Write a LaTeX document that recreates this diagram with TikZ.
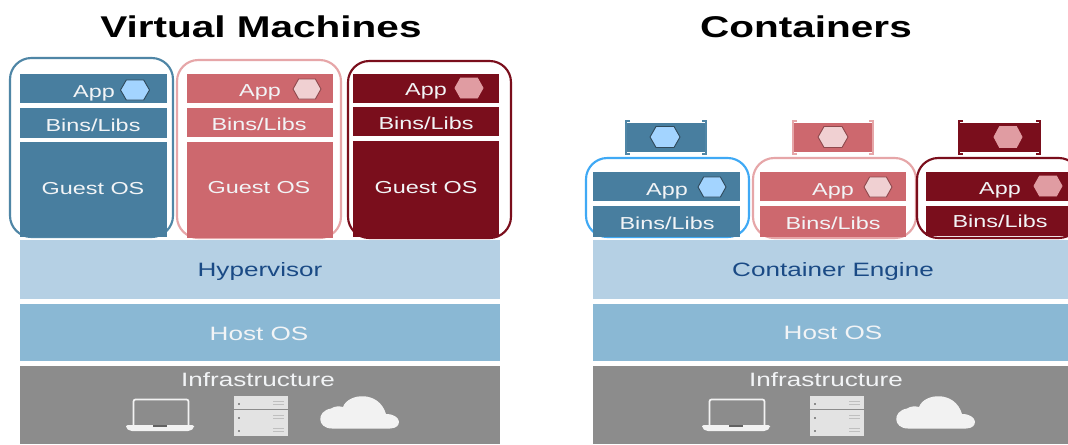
\documentclass[tikz,border=0pt]{standalone}
\usepackage{fontspec}
\setmainfont[FakeStretch=1.35]{Liberation Sans}
\definecolor{cblue}{HTML}{487E9F}
\definecolor{cpink}{HTML}{CD686E}
\definecolor{cdark}{HTML}{7A0E1C}
\definecolor{lblue}{HTML}{4F86A6}
\definecolor{lbright}{HTML}{3FA9F5}
\definecolor{lpink}{HTML}{E6A6A8}
\definecolor{hblue}{HTML}{A3D4FF}
\definecolor{hpink}{HTML}{F0D0D2}
\definecolor{hdark}{HTML}{E09CA2}
\definecolor{hyper}{HTML}{B5D0E4}
\definecolor{hostc}{HTML}{8AB8D4}
\definecolor{infra}{HTML}{8C8C8C}
\definecolor{navy}{HTML}{1A4A85}
\definecolor{icon}{HTML}{F2F2F2}
\definecolor{hexline}{HTML}{2F4A5C}
\definecolor{softw}{HTML}{F2F4F6}
\tikzset{
  x=0.75pt,y=-0.75pt,
  boxn/.style={inner sep=0pt,outer sep=0pt,rectangle},
  shell/.style={boxn,draw,line width=1.6pt,rounded corners=16pt},
  lab/.style={inner sep=0pt,text=softw,text height=9.3pt,text depth=0pt,font=\fontsize{13}{15}\selectfont},
  big/.style={inner sep=0pt,text=softw,text height=10.4pt,text depth=0pt,font=\fontsize{14.5}{17}\selectfont},
  dlab/.style={big,text=navy},
  ttl/.style={inner sep=0pt,text=black,text height=16pt,text depth=0pt,font=\fontsize{22.5}{26}\selectfont\bfseries},
  hexa/.style={line width=0.7pt,line join=round},
}
% name x0 y0 x1 y1 options
\newcommand{\bx}[6]{%
  \pgfmathsetmacro{\bw}{(#4-#2)*0.75}%
  \pgfmathsetmacro{\bh}{(#5-#3)*0.75}%
  \pgfmathsetmacro{\bcx}{(#2+#4)/2}%
  \pgfmathsetmacro{\bcy}{(#3+#5)/2}%
  \node[boxn,#6,minimum width=\bw pt,minimum height=\bh pt] (#1) at (\bcx,\bcy) {};}
% center x, y, half width, half height, fill, line
\newcommand{\hx}[6]{%
  \filldraw[hexa,fill=#5,draw=#6] (#1-#3,#2) -- (#1-#3*0.6,#2-#4) -- (#1+#3*0.6,#2-#4) -- (#1+#3,#2) -- (#1+#3*0.6,#2+#4) -- (#1-#3*0.6,#2+#4) -- cycle;}
% small container image
\newcommand{\img}[4]{% x0 x1 fill line
  \fill[#3] (#1,123) rectangle (#2,152);
  \draw[#4,line width=1.2pt] (#1+4,121) -- (#1,121) -- (#1,154) -- (#1+4,154);
  \draw[#4,line width=1.2pt] (#2-4,121) -- (#2,121) -- (#2,154) -- (#2-4,154);}
\newcommand{\laptop}[1]{%
  \begin{scope}[shift={(#1,0)}]
  \draw[icon,line width=1.3pt,rounded corners=1.5pt] (133.5,426) -- (133.5,399.5) -- (188.5,399.5) -- (188.5,426);
  \fill[icon,rounded corners=1.5pt] (126,425) -- (194,425) -- (194,428) -- (190,431) -- (130,431) -- (126,428) -- cycle;
  \fill[infra!70!black] (153,425) rectangle (167,427);
  \end{scope}}
\newcommand{\server}[1]{%
  \begin{scope}[shift={(#1,0)}]
  \foreach \yy in {396,410,423}{
    \fill[icon!85!infra] (234,\yy) rectangle (288,\yy+12.5);
    \fill[infra] (238,\yy+7) rectangle (240,\yy+9);
    \fill[infra!50!icon] (273,\yy+5) rectangle (284,\yy+6);
    \fill[infra!50!icon] (273,\yy+8) rectangle (284,\yy+9);
  }
  \end{scope}}
\newcommand{\cloud}[1]{%
  \begin{scope}[shift={(#1,0)}]
  \fill[icon] (332,428.5) .. controls (317,428.5) and (316,411) .. (331,408.5)
    .. controls (335,406) and (339,406) .. (343,407)
    .. controls (348,393) and (379,390) .. (386,414)
    .. controls (402,414) and (403,428.5) .. (390,428.5) -- cycle;
  \end{scope}}
\begin{document}
\begin{tikzpicture}
\useasboundingbox (0,0) rectangle (1068,444);
\clip (0,0) rectangle (1068,444);
\fill[white] (0,0) rectangle (1068,444);
\node[ttl] (t1) at (261,27) {Virtual Machines};
\node[ttl] (t2) at (806,27) {Containers};
% VM shells
\bx{s1}{10}{58}{173}{237}{shell,draw=lblue}
\bx{s2}{177}{60}{341}{238}{shell,draw=lpink}
\bx{s3}{348}{61}{511}{238}{shell,draw=cdark}
% VM 1
\bx{a1}{20}{74}{167}{103}{fill=cblue}
\bx{b1}{20}{108}{167}{138}{fill=cblue}
\bx{g1}{20}{142}{167}{237}{fill=cblue}
\node[lab] (ta1) at (94,91) {App};
\hx{135}{90}{14.5}{10}{hblue}{hexline}
\node[lab] (tb1) at (93,125) {Bins/Libs};
\node[lab] (tg1) at (93,188) {Guest OS};
% VM 2
\bx{a2}{187}{74}{333}{103}{fill=cpink}
\bx{b2}{187}{108}{333}{137}{fill=cpink}
\bx{g2}{187}{142}{333}{238}{fill=cpink}
\node[lab] (ta2) at (260,90) {App};
\hx{307}{89}{14}{10}{hpink}{cpink!70!black}
\node[lab] (tb2) at (259,124) {Bins/Libs};
\node[lab] (tg2) at (259,187) {Guest OS};
% VM 3
\bx{a3}{353}{74}{499}{103}{fill=cdark}
\bx{b3}{353}{107}{499}{136}{fill=cdark}
\bx{g3}{353}{141}{499}{237}{fill=cdark}
\node[lab] (ta3) at (426,89) {App};
\hx{469}{88}{14}{10}{hdark}{hdark}
\node[lab] (tb3) at (426,123) {Bins/Libs};
\node[lab] (tg3) at (426,187) {Guest OS};
% Left stack
\bx{hv}{20}{240}{500}{299}{fill=hyper}
\bx{h1}{20}{304}{500}{361}{fill=hostc}
\bx{i1}{20}{366}{500}{444}{fill=infra}
\node[dlab] (thv) at (260,270) {Hypervisor};
\node[big] (th1) at (259,334) {Host OS};
\node[big] (ti1) at (258,380) {Infrastructure};
\laptop{0}\server{0}\cloud{0}
% Container images
\img{626}{706}{cblue}{lblue}
\hx{665}{137}{15}{10.5}{hblue}{hexline}
\img{793}{873}{cpink}{lpink}
\hx{833}{137}{15}{10.5}{hpink}{cpink!70!black}
\img{959}{1040}{cdark}{cdark}
\hx{1008}{137}{14}{10.5}{hdark}{hdark}
% Container shells
\bx{c1}{586}{158}{749}{237}{shell,draw=lbright}
\bx{c2}{753}{158}{916}{238}{shell,draw=lpink}
\bx{c3}{917}{158}{1080}{238}{shell,draw=cdark}
\bx{ca1}{593}{172}{740}{201}{fill=cblue}
\bx{cb1}{593}{206}{740}{237}{fill=cblue}
\node[lab] (tca1) at (667,189) {App};
\hx{712}{187}{14}{10}{hblue}{hexline}
\node[lab] (tcb1) at (667,223) {Bins/Libs};
\bx{ca2}{760}{172}{906}{201}{fill=cpink}
\bx{cb2}{760}{206}{906}{237}{fill=cpink}
\node[lab] (tca2) at (833,189) {App};
\hx{878}{187}{14}{10}{hpink}{cpink!70!black}
\node[lab] (tcb2) at (833,223) {Bins/Libs};
\bx{ca3}{926}{172}{1075}{201}{fill=cdark}
\bx{cb3}{926}{206}{1075}{236}{fill=cdark}
\node[lab] (tca3) at (1000,188) {App};
\hx{1048}{186}{14}{10}{hdark}{hdark}
\node[lab] (tcb3) at (1000,221) {Bins/Libs};
% Right stack
\bx{ce}{593}{240}{1075}{299}{fill=hyper}
\bx{h2}{593}{304}{1075}{361}{fill=hostc}
\bx{i2}{593}{366}{1075}{444}{fill=infra}
\node[dlab] (tce) at (833,270) {Container Engine};
\node[big] (th2) at (833,333) {Host OS};
\node[big] (ti2) at (826,380) {Infrastructure};
\laptop{576}\server{576}\cloud{576}
\end{tikzpicture}
\end{document}
